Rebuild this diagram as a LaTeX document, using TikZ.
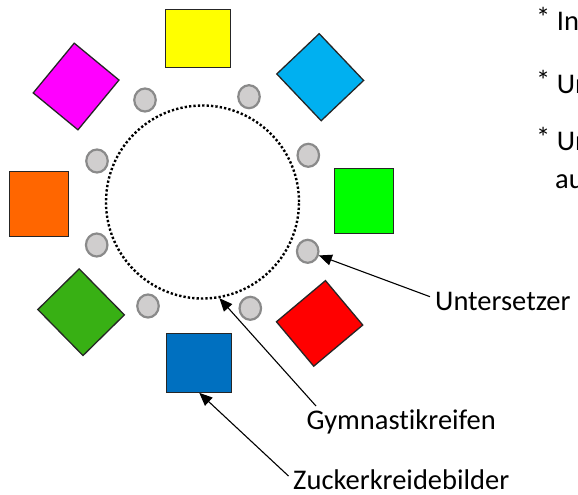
\documentclass[tikz,border=0pt]{standalone}
\usepackage{fontspec}
\setmainfont{Carlito}[Ligatures={NoCommon,NoRare}]
\usetikzlibrary{arrows.meta,shapes.geometric}
\definecolor{cYellow}{HTML}{FFFF00}
\definecolor{cOrange}{HTML}{FF6600}
\definecolor{cLime}{HTML}{00FF00}
\definecolor{cBlue}{HTML}{0070C0}
\definecolor{cMagenta}{HTML}{FF00FF}
\definecolor{cCyan}{HTML}{00B0F0}
\definecolor{cGreen}{HTML}{38B014}
\definecolor{cRed}{HTML}{FF0000}
\definecolor{cDiscFill}{HTML}{D0CECE}
\definecolor{cDiscLine}{HTML}{8A8A8A}
\tikzset{
  picbox/.style={draw=black!85, line width=1.3pt, rectangle, inner sep=0pt, fill=#1},
  disc/.style={ellipse, draw=cDiscLine, fill=cDiscFill, line width=2.2pt, inner sep=0pt, minimum width=21.5pt, minimum height=23pt},
  hoopstyle/.style={circle, draw=black, line width=2.4pt, dash pattern=on 2.3pt off 2.1pt, inner sep=0pt, minimum size=193pt},
  lbl/.style={inner sep=0pt, anchor=base west, font=\fontsize{28.5}{34}\selectfont},
  pointer/.style={draw=black, line width=1.1pt, -{Triangle[length=13pt,width=11pt]}}
}
\begin{document}
\begin{tikzpicture}[x=1pt,y=-1pt]
\useasboundingbox (0,0) rectangle (578,495);
% hoop
\node[hoopstyle] (hoop) at (202.5,202) {};
% pictures
\node[picbox=cYellow, minimum width=65pt, minimum height=58pt] (yellow) at (198,38.5) {};
\node[picbox=cOrange, minimum width=59pt, minimum height=65pt] (orange) at (39.3,203.7) {};
\node[picbox=cLime, minimum width=59pt, minimum height=65pt] (lime) at (364.3,201.3) {};
\node[picbox=cBlue, minimum width=65pt, minimum height=59pt] (blue) at (199.3,362.7) {};
\node[picbox=cMagenta, minimum width=58pt, minimum height=64.5pt, rotate=-39.5] (magenta) at (76.1,86.5) {};
\node[picbox=cCyan, minimum width=58.5pt, minimum height=64.5pt, rotate=43.5] (cyan) at (320.2,77.2) {};
\node[picbox=cGreen, minimum width=58pt, minimum height=64.5pt, rotate=44.5] (green) at (81.1,312.2) {};
\node[picbox=cRed, minimum width=64pt, minimum height=58pt, rotate=40] (red) at (319.6,323.4) {};
% coasters
\node[disc] (d1) at (145,100) {};
\node[disc] (d2) at (249,96.7) {};
\node[disc] (d3) at (97,161) {};
\node[disc] (d4) at (308.3,155.3) {};
\node[disc] (d5) at (96.7,245) {};
\node[disc] (d6) at (307.7,251.3) {};
\node[disc] (d7) at (148,306) {};
\node[disc] (d8) at (250.3,308.3) {};
% labels
\node[lbl] (lu) at (435,310.5) {Untersetzer};
\node[lbl] (lg) at (306.5,429) {Gymnastikreifen};
\node[lbl] (lz) at (293,489) {Zuckerkreidebilder};
% pointers
\draw[pointer] ([shift={(-5,-13.8)}]lu.base west) -- (d6);
\draw[pointer] ([shift={(9.5,-23)}]lg.base west) -- (hoop.-80);
\draw[pointer] ([shift={(-4.5,-13)}]lz.base west) -- (blue.south);
% cut-off notes at the top right (cut off in the reference as well)
\begin{scope}
\clip (0,0) rectangle (578,495);
\node[lbl] (t1) at (536,31) {\raisebox{3pt}{*} In};
\node[lbl] (t2) at (536,93.5) {\raisebox{3pt}{*} Un};
\node[lbl] (t3) at (536,150.5) {\raisebox{3pt}{*} Un};
\node[lbl] (t4) at (555,188.5) {au};
\end{scope}
\end{tikzpicture}
\end{document}
